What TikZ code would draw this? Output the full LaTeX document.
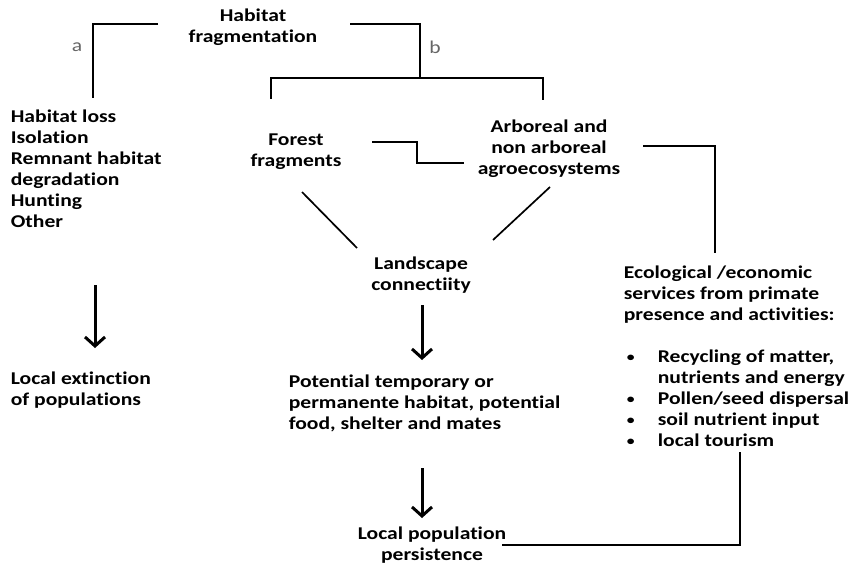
\documentclass[tikz,border=0pt]{standalone}
\usepackage{fontspec}
\setmainfont{Carlito}[FakeStretch=1.2,Ligatures=NoCommon]
\usetikzlibrary{arrows.meta}
\newcommand{\itembul}{\makebox[34pt][l]{\hspace{3pt}\raisebox{1pt}{\fontsize{13}{13}\selectfont\textbullet}}}

\begin{document}
\begin{tikzpicture}[x=1pt,y=-1pt,line width=1.7pt,
  txt/.style={inner sep=0pt,font=\fontsize{18}{21}\selectfont\bfseries},
  lbl/.style={inner sep=0pt,text=black!60,font=\fontsize{18}{21}\selectfont},
  bigarrow/.style={line width=3pt,-{Straight Barb[length=9pt,width=20pt]}}]
\useasboundingbox (0,0) rectangle (853,564);
% texts
\node[txt,align=center] (frag) at (253,27) {Habitat\\fragmentation};
\node[lbl] (la) at (77,47) {a};
\node[lbl] (lb) at (435,47) {b};
\node[txt,align=left,anchor=west] (causes) at (10,169) {Habitat loss\\Isolation\\Remnant habitat\\degradation\\Hunting\\Other};
\node[txt,align=left,anchor=west] (ext) at (10,390) {Local extinction\\of populations};
\node[txt,align=center] (forest) at (296,152) {Forest\\fragments};
\node[txt,align=center] (agro) at (549,149) {Arboreal and\\non arboreal\\agroecosystems};
\node[txt,align=center] (conn) at (421,275) {Landscape\\connectiity};
\node[txt,align=left,anchor=west] (pot) at (288,403) {Potential temporary or\\permanente habitat, potential\\food, shelter and mates};
\node[txt,align=center] (persist) at (432,545) {Local population\\persistence};
\node[txt,align=left,anchor=west] (serv) at (623,356) {Ecological /economic\\services from primate\\presence and activities:\\[21pt]
  \itembul Recycling of matter,\\\hspace{34pt}nutrients and energy\\
  \itembul Pollen/seed dispersal\\
  \itembul soil nutrient input\\
  \itembul local tourism};
% end points of the brackets
\coordinate (aL) at (158,24);
\coordinate (aB) at (93,98);
\coordinate (bR) at (350,24);
\coordinate (bJ) at (420,78);
\coordinate (fTop) at (271,99);
\coordinate (gTop) at (543,100);
\coordinate (stepL) at (372,142);
\coordinate (stepM) at (417,163);
\coordinate (stepR) at (464,163);
\draw (aL) -| (aB);
\draw (bR) -| (bJ);
\draw (fTop) |- (bJ) -| (gTop);
\draw (stepL) -| (stepM) -- (stepR);
% towards connectivity
\coordinate (dL1) at (302,192); \coordinate (dL2) at (357,248);
\coordinate (dR1) at (550,187); \coordinate (dR2) at (493,240);
\draw (dL1) -- (dL2) (dR1) -- (dR2);
% services
\coordinate (sv1) at (643,146); \coordinate (sv2) at (715,253);
\draw (sv1) -| (sv2);
\coordinate (pr1) at (502,545); \coordinate (pr2) at (740,452);
\draw (pr1) -| (pr2);
% arrows
\coordinate (ar1) at (95,285); \coordinate (ar2) at (95,348);
\coordinate (ar3) at (422,305); \coordinate (ar4) at (422,360);
\coordinate (ar5) at (422,468); \coordinate (ar6) at (422,518);
\draw[bigarrow] (ar1) -- (ar2);
\draw[bigarrow] (ar3) -- (ar4);
\draw[bigarrow] (ar5) -- (ar6);
\end{tikzpicture}
\end{document}
